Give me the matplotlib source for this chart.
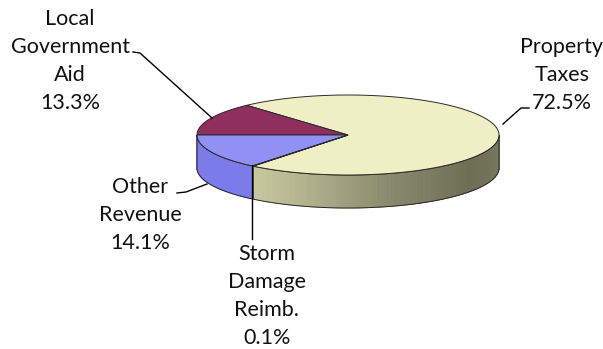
import numpy as np
import matplotlib
matplotlib.use("Agg")
import matplotlib.pyplot as plt
from matplotlib.patches import Polygon
from matplotlib.colors import LinearSegmentedColormap

# data
categories = ["Property\nTaxes", "Local\nGovernment\nAid", "Other\nRevenue", "Storm\nDamage\nReimb."]
shares = [72.5, 13.3, 14.1, 0.1]
top_colors = ["#EFEFC6", "#8E2F5E", "#9191F5", "#CCF5F5"]
side_colors = [None, "#6E1F45", "#7B7BEA", "#A8D8D8"]

plt.rcParams["font.family"] = ["Lato", "DejaVu Sans"]

fig = plt.figure(figsize=(6.03, 3.49), dpi=100)
ax = fig.add_axes([0, 0, 1, 1])
ax.set_xlim(0, 603)
ax.set_ylim(349, 0)
ax.axis("off")

# pie geometry (pixels)
cx, cy, a, b, depth = 348, 135, 151, 40, 33


def top_pt(t):
    r = np.radians(t)
    return cx + a * np.cos(r), cy - b * np.sin(r)


# slice angles, counterclockwise, LGA ends at 180 deg
vals = np.array(shares) / sum(shares) * 360
start = 180 - vals[0] - vals[1]
bounds = start + np.concatenate([[0], np.cumsum(vals)])

prop_side = LinearSegmentedColormap.from_list(
    "ps", ["#E6E6B8", "#D8D8AA", "#B4B48E", "#86866A", "#6E6E55", "#7A7A60"])

# sides (front half only)
for i in range(len(shares)):
    t1, t2 = bounds[i], bounds[i + 1]
    segs = []
    for off in (-360, 0, 360):
        lo, hi = max(t1, 180 + off), min(t2, 360 + off)
        if hi > lo:
            segs.append((lo - off, hi - off))
    for lo, hi in segs:
        ts = np.linspace(lo, hi, max(int((hi - lo) * 2), 2))
        for k in range(len(ts) - 1):
            x1, y1 = top_pt(ts[k])
            x2, y2 = top_pt(ts[k + 1])
            if side_colors[i] is None:
                col = prop_side((ts[k] - 180) / 180)
            else:
                col = side_colors[i]
            ax.add_patch(Polygon([(x1, y1), (x2, y2), (x2, y2 + depth), (x1, y1 + depth)],
                                 closed=True, facecolor=col, edgecolor=col, lw=0.6))
        xs, ys = top_pt(ts)
        outline = list(zip(xs, ys)) + list(zip(xs[::-1], ys[::-1] + depth))
        ax.add_patch(Polygon(outline, closed=True, facecolor="none", edgecolor="#2a2a2a", lw=0.7))

# top faces
for i in range(len(shares)):
    ts = np.linspace(bounds[i], bounds[i + 1], max(int(vals[i]), 2))
    xs, ys = top_pt(ts)
    pts = [(cx, cy)] + list(zip(xs, ys))
    ax.add_patch(Polygon(pts, closed=True, facecolor=top_colors[i], edgecolor="#2a2a2a", lw=0.7))

# labels and leader lines
lab_kw = dict(ha="center", va="center", multialignment="center", fontsize=15.5,
              linespacing=1.48, color="#111111")
ax.text(562, 75, f"{categories[0]}\n{shares[0]}%", **lab_kw)
ax.plot([503, 521, 529], [124, 108, 108], color="black", lw=1)

ax.text(70, 61, f"{categories[1]}\n{shares[1]}%", **lab_kw)
ax.plot([133, 140, 212], [52, 53, 118], color="black", lw=1)

ax.text(140, 215, f"{categories[2]}\n{shares[2]}%", **lab_kw)
ax.plot([177, 186, 207], [193, 192, 184], color="black", lw=1)

ax.text(267, 296, f"{categories[3]}\n{shares[3]}%", **lab_kw)
ax.plot([252, 252], [165, 239], color="black", lw=1)

fig.savefig("out.png", dpi=100)
